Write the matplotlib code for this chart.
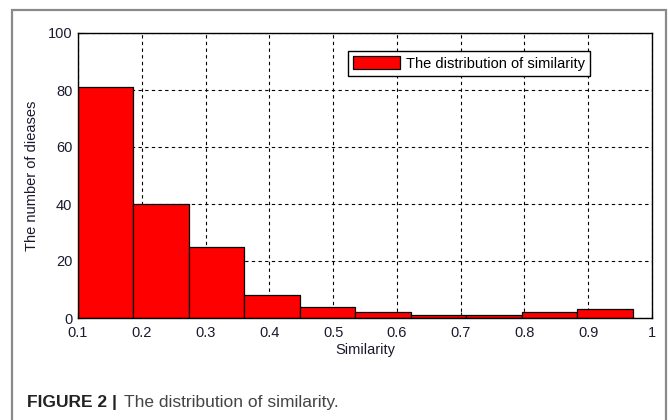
import matplotlib.pyplot as plt
from matplotlib.patches import Rectangle

plt.rcParams['font.family'] = ['Liberation Sans', 'DejaVu Sans']

# histogram bins (left edges) and counts
bin_edges = [0.100, 0.187, 0.274, 0.361, 0.448, 0.535, 0.622, 0.709, 0.796, 0.883, 0.970]
counts = [81, 40, 25, 8, 4, 2, 1, 1, 2, 3]
x_ticks = [0.1, 0.2, 0.3, 0.4, 0.5, 0.6, 0.7, 0.8, 0.9, 1]
x_tick_labels = ['0.1', '0.2', '0.3', '0.4', '0.5', '0.6', '0.7', '0.8', '0.9', '1']
y_ticks = [0, 20, 40, 60, 80, 100]

fig = plt.figure(figsize=(6.68, 4.2), dpi=100)

# outer frame of the figure panel
frame = Rectangle((12 / 668, -0.05), (666 - 12) / 668, 1.05 - 10 / 420,
                  transform=fig.transFigure, fill=False,
                  edgecolor='#8a8a8a', linewidth=1.6, clip_on=False)
fig.patches.append(frame)

ax = fig.add_axes([78 / 668, 102 / 420, 574 / 668, 285 / 420])

lefts = bin_edges[:-1]
widths = [b - a for a, b in zip(bin_edges[:-1], bin_edges[1:])]
ax.bar(lefts, counts, width=widths, align='edge', color='#ff0000',
       edgecolor='black', linewidth=0.9, label='The distribution of similarity',
       zorder=3)

ax.set_xlim(0.1, 1.0)
ax.set_ylim(0, 100)
ax.set_xticks(x_ticks)
ax.set_xticklabels(x_tick_labels)
ax.set_yticks(y_ticks)
ax.tick_params(direction='in', length=4, labelsize=10.5, colors='#1a1a2e')
ax.tick_params(axis='x', pad=6)
ax.tick_params(axis='y', pad=4)
ax.grid(True, color='black', linestyle=(0, (3, 3)), linewidth=0.8, zorder=1)
for s in ax.spines.values():
    s.set_linewidth(1.0)
    s.set_zorder(4)

ax.set_xlabel('Similarity', fontsize=10.5, labelpad=2, color='#1a1a2e')
ax.set_ylabel('The number of dieases', fontsize=10.5, labelpad=6, color='#1a1a2e')

leg = ax.legend(loc='upper right', bbox_to_anchor=(0.892, 0.937),
                borderaxespad=0, fancybox=False, edgecolor='black',
                framealpha=1, fontsize=10.5, handlelength=3.2,
                handleheight=1.0, borderpad=0.35, handletextpad=0.4)
leg.get_frame().set_linewidth(1.0)
leg.set_zorder(5)

fig.text(27 / 668, 1 - 402 / 420, 'FIGURE 2 |', fontsize=12.5, fontweight='bold',
         va='center', ha='left', color='#222222')
fig.text(124 / 668, 1 - 402 / 420, 'The distribution of similarity.',
         fontsize=12.5, va='center', ha='left', color='#444444')

fig.savefig('out.png', dpi=100)
